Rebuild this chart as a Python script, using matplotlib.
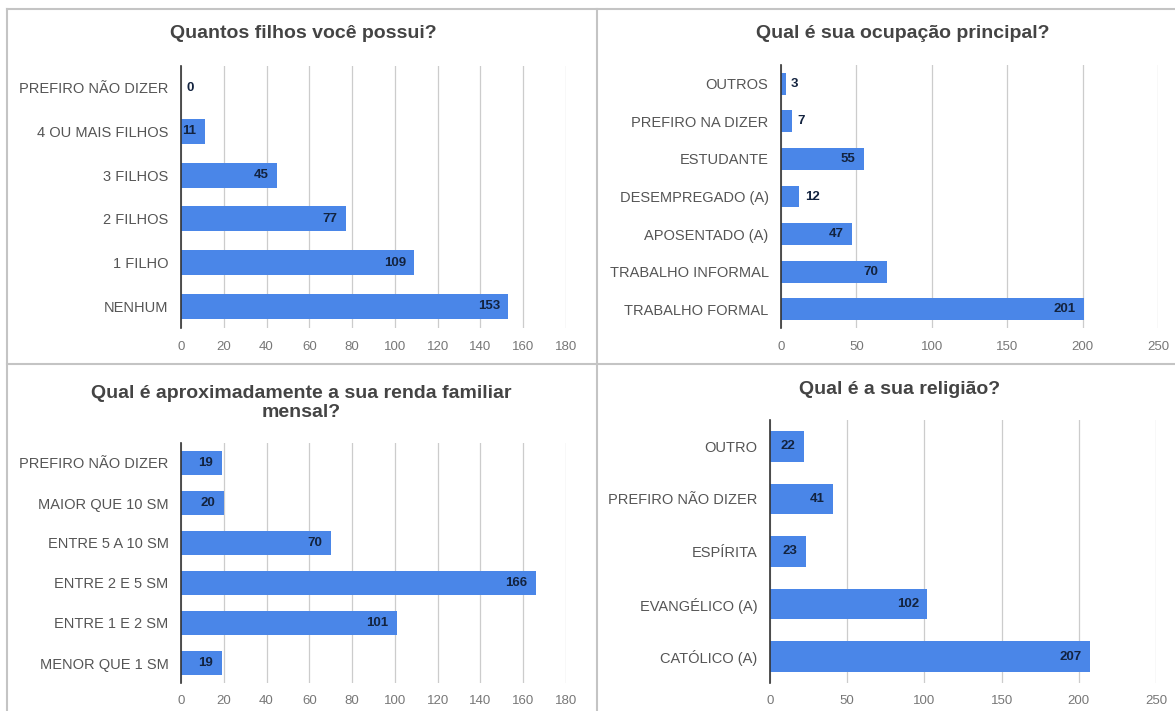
import numpy as np
import matplotlib.pyplot as plt
from matplotlib.lines import Line2D

plt.rcParams['font.family'] = ['Liberation Sans', 'DejaVu Sans']

# data (top row of each list = top bar)
filhos_cat = ['PREFIRO NÃO DIZER', '4 OU MAIS FILHOS', '3 FILHOS', '2 FILHOS', '1 FILHO', 'NENHUM']
filhos_val = [0, 11, 45, 77, 109, 153]

ocup_cat = ['OUTROS', 'PREFIRO NA DIZER', 'ESTUDANTE', 'DESEMPREGADO (A)', 'APOSENTADO (A)',
            'TRABALHO INFORMAL', 'TRABALHO FORMAL']
ocup_val = [3, 7, 55, 12, 47, 70, 201]

renda_cat = ['PREFIRO NÃO DIZER', 'MAIOR QUE 10 SM', 'ENTRE 5 A 10 SM', 'ENTRE 2 E 5 SM',
             'ENTRE 1 E 2 SM', 'MENOR QUE 1 SM']
renda_val = [19, 20, 70, 166, 101, 19]

relig_cat = ['OUTRO', 'PREFIRO NÃO DIZER', 'ESPÍRITA', 'EVANGÉLICO (A)', 'CATÓLICO (A)']
relig_val = [22, 41, 23, 102, 207]

W, H = 1175, 711
fig = plt.figure(figsize=(W / 100, H / 100), dpi=100)

BLUE = '#4a86e8'
LBL = '#13233f'


def box(x0, y0, x1, y1):
    # pixel box (top-left origin) -> fig fraction rect
    return [x0 / W, 1 - y1 / H, (x1 - x0) / W, (y1 - y0) / H]


def panel(rect, cats, vals, xmax, step, title, tx, ty):
    ax = fig.add_axes(rect)
    y = np.arange(len(cats))
    ax.barh(y, vals, height=0.58, color=BLUE, zorder=3)
    ax.set_ylim(len(cats) - 0.5, -0.5)
    ax.set_xlim(0, xmax)
    ax.set_xticks(np.arange(0, xmax + 1, step))
    ax.set_yticks(y)
    ax.set_yticklabels(cats)
    ax.tick_params(axis='y', length=0, pad=9, labelsize=10.5, labelcolor='#555555')
    ax.tick_params(axis='x', length=0, pad=9, labelsize=9.5, labelcolor='#777777')
    ax.grid(axis='x', color='#cccccc', linewidth=0.9, zorder=0)
    for s in ['top', 'right', 'bottom']:
        ax.spines[s].set_visible(False)
    ax.spines['left'].set_color('#333333')
    ax.spines['left'].set_linewidth(1.2)
    ax.spines['left'].set_zorder(4)
    pxu = rect[2] * W / xmax
    for yi, v in zip(y, vals):
        if v * pxu > 20:
            ax.annotate(str(v), (v, yi), xytext=(-6, 0), textcoords='offset points',
                        ha='right', va='center', fontsize=9.5, fontweight='bold', color=LBL, zorder=5)
        else:
            ax.annotate(str(v), (v, yi), xytext=(4, 0), textcoords='offset points',
                        ha='left', va='center', fontsize=9.5, fontweight='bold', color=LBL, zorder=5)
    fig.text(tx / W, 1 - ty / H, title, ha='center', va='center', fontsize=14,
             fontweight='bold', color='#444444', linespacing=1.1)
    return ax


panel(box(181, 66, 566, 328), filhos_cat, filhos_val, 180, 20,
      'Quantos filhos você possui?', 303, 33)
panel(box(781, 65, 1158, 328), ocup_cat, ocup_val, 250, 50,
      'Qual é sua ocupação principal?', 903, 33)
panel(box(181, 443, 566, 683), renda_cat, renda_val, 180, 20,
      'Qual é aproximadamente a sua renda familiar\nmensal?', 301, 403)
panel(box(770, 420, 1156, 683), relig_cat, relig_val, 250, 50,
      'Qual é a sua religião?', 900, 390)

# panel borders
bc = '#c4c4c4'
fig.add_artist(Line2D([7 / W, 1], [1 - 9 / H, 1 - 9 / H], color=bc, lw=1.5))
fig.add_artist(Line2D([7 / W, 7 / W], [0, 1 - 9 / H], color=bc, lw=1.5))
fig.add_artist(Line2D([597 / W, 597 / W], [0, 1 - 9 / H], color=bc, lw=1.5))
fig.add_artist(Line2D([7 / W, 1], [1 - 364 / H, 1 - 364 / H], color=bc, lw=1.5))

fig.savefig('out.png', dpi=100)
